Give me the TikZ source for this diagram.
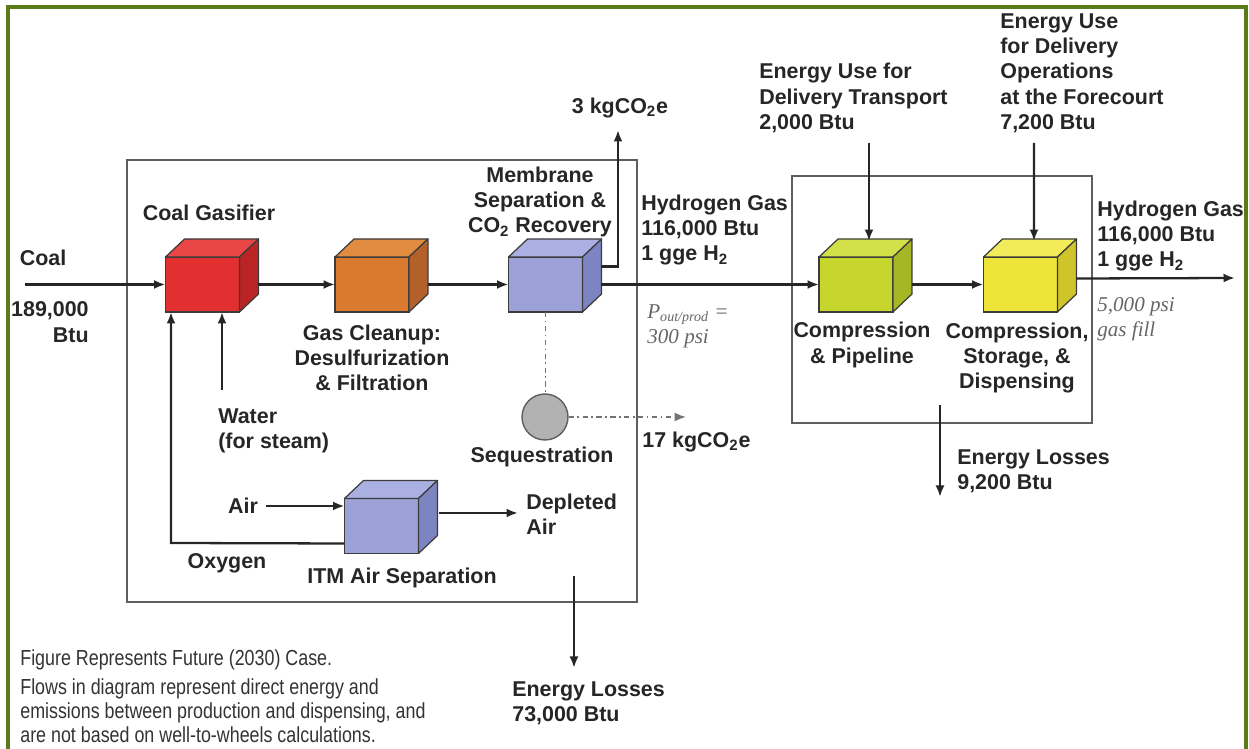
\documentclass[tikz,border=0pt]{standalone}
\usepackage{fontspec}
\usepackage{xcolor}
\usetikzlibrary{arrows.meta,calc}
\setmainfont{Liberation Sans}
\newfontfamily\noteFont[FakeStretch=0.82]{Liberation Sans}
\newfontfamily\psiFont{Liberation Serif}

\definecolor{frameGreen}{HTML}{5B7B18}
\definecolor{inkGray}{HTML}{262626}
\definecolor{boxGray}{HTML}{5E5E5E}
\definecolor{cubeLine}{HTML}{3C3C3C}
\definecolor{gasRed}{HTML}{E23030}
\definecolor{gasRedTop}{HTML}{EA4646}
\definecolor{gasRedSide}{HTML}{BB2424}
\definecolor{cleanOrange}{HTML}{D97A2E}
\definecolor{cleanOrangeTop}{HTML}{E28C42}
\definecolor{cleanOrangeSide}{HTML}{B3602A}
\definecolor{membBlue}{HTML}{9CA2D8}
\definecolor{membBlueTop}{HTML}{ABB0E2}
\definecolor{membBlueSide}{HTML}{7D84C2}
\definecolor{pipeGreen}{HTML}{C6D62C}
\definecolor{pipeGreenTop}{HTML}{D2E04A}
\definecolor{pipeGreenSide}{HTML}{A6B624}
\definecolor{fcYellow}{HTML}{EDE53A}
\definecolor{fcYellowTop}{HTML}{F3EC5A}
\definecolor{fcYellowSide}{HTML}{CFC52A}

\tikzset{
  frameLine/.style={draw=frameGreen, line width=0.08cm},
  sysBox/.style={draw=boxGray, line width=1.2pt, inner sep=0, outer sep=0},
  cubeFace/.style={draw=cubeLine, line width=0.7pt, minimum width=1.48cm, minimum height=1.1cm, inner sep=0, outer sep=0},
  cubeEdge/.style={draw=cubeLine, line width=0.7pt, line join=round},
  seqDisk/.style={circle, draw=boxGray, line width=0.8pt, fill=black!30, minimum size=0.92cm, inner sep=0},
  flow/.style={draw=inkGray, line width=1.3pt, -{Latex[length=2.3mm,width=1.8mm]}},
  seqFlow/.style={draw=black!55, line width=0.9pt, dash dot},
  lbl/.style={text=inkGray, font=\fontsize{12.2}{14.4}\selectfont\bfseries, align=center, inner sep=0},
  psiNote/.style={text=black!60, font=\psiFont\itshape\fontsize{12}{14.4}\selectfont, align=left, inner sep=0},
  footNote/.style={text=black!80, font=\noteFont\fontsize{12.4}{13.6}\selectfont, align=left, inner sep=0}
}

\newcommand{\Cube}[6]{
  \node[cubeFace, fill=#4] (#1) at (#2,#3) {};
  \filldraw[cubeEdge, fill=#5] (#1.north west) -- ($(#1.north west)+(19,-18)$) -- ($(#1.north east)+(19,-18)$) -- (#1.north east) -- cycle;
  \filldraw[cubeEdge, fill=#6] (#1.north east) -- ($(#1.north east)+(19,-18)$) -- ($(#1.south east)+(19,-18)$) -- (#1.south east) -- cycle;
}

\begin{document}
\begin{tikzpicture}[x=0.02cm, y=-0.02cm]
            \useasboundingbox (0,0) rectangle (1249,749);
            \draw[frameLine] (8,749) -- (8,7) -- (1246,7) -- (1246,749);
            \node[sysBox, minimum width=10.2cm, minimum height=8.84cm] (prodBox) at (382,381) {};
            \node[sysBox, minimum width=6cm, minimum height=4.94cm] (delBox) at (942,299.5) {};
            \Cube{coalGas}{202.5}{284.5}{gasRed}{gasRedTop}{gasRedSide}
            \Cube{gasClean}{372}{284.5}{cleanOrange}{cleanOrangeTop}{cleanOrangeSide}
            \Cube{membSep}{545.5}{284.5}{membBlue}{membBlueTop}{membBlueSide}
            \Cube{itmSep}{381.5}{526}{membBlue}{membBlueTop}{membBlueSide}
            \Cube{pipeComp}{856}{284.5}{pipeGreen}{pipeGreenTop}{pipeGreenSide}
            \Cube{fcComp}{1020.5}{284.5}{fcYellow}{fcYellowTop}{fcYellowSide}
            \node[seqDisk] (seqTank) at (545,417) {};
            \coordinate (coalIn) at (25,284.5);
            \coordinate (co2Top) at (618,130);
            \coordinate (h2Out) at (1235,278);
            \coordinate (co2Seq) at (686,417);
            \coordinate (waterIn) at (222,390);
            \coordinate (oxyTurn) at (171,543);
            \coordinate (airIn) at (266,506);
            \coordinate (depOut) at (518,513);
            \coordinate (prodLoss) at (574,576);
            \coordinate (dtIn) at (869,143);
            \coordinate (fcIn) at (1034,143);
            \coordinate (delLoss) at (940,405);
            \draw[flow] (coalIn) -- (coalGas.west);
            \draw[flow] ($(coalGas.east)+(19,0)$) -- (gasClean.west);
            \draw[flow] ($(gasClean.east)+(19,0)$) -- (membSep.west);
            \draw[flow] ($(membSep.east)+(19,0)$) -- (pipeComp.west);
            \draw[flow] ($(pipeComp.east)+(19,0)$) -- (fcComp.west);
            \draw[flow] ($(fcComp.east)+(19,-6)$) -- (h2Out);
            \draw[flow] ($(membSep.east)+(19,-18)$) -| (co2Top);
            \draw[seqFlow] (membSep.south) -- (membSep.south |- seqTank.north);
            \draw[seqFlow, -{Latex[length=2.3mm,width=1.8mm]}] (seqTank.east) -- (co2Seq);
            \draw[flow] (waterIn) -- (waterIn |- coalGas.south);
            \draw[flow] ($(itmSep.south west)+(0,-10)$) -- (oxyTurn) -- (oxyTurn |- coalGas.south);
            \draw[flow] (airIn) -- (airIn -| itmSep.west);
            \draw[flow] ($(itmSep.east)+(21,-13)$) -- (depOut);
            \draw[flow] (prodLoss) -- ++(0,92);
            \draw[flow] (dtIn) -- ($(pipeComp.north)+(13,-16)$);
            \draw[flow] (fcIn) -- ($(fcComp.north)+(13.5,-16)$);
            \draw[flow] (delLoss) -- ++(0,92);
            \node[lbl] (coalLbl) at (43,258) {Coal};
            \node[lbl, align=right, anchor=east] (coalAmt) at (89,322) {189,000\\Btu};
            \node[lbl] (gasLbl) at (209,213) {Coal Gasifier};
            \node[lbl] (cleanLbl) at (372,358) {Gas Cleanup:\\Desulfurization\\\& Filtration};
            \node[lbl] (membLbl) at (540,202) {Membrane\\Separation \&\\CO\textsubscript{2} Recovery};
            \node[lbl] (co2Lbl) at (620,108) {3 kgCO\textsubscript{2}e};
            \node[lbl, align=left, anchor=west] (h2Lbl) at (641,230) {Hydrogen Gas\\116,000 Btu\\1 gge H\textsubscript{2}};
            \node[psiNote, anchor=west] (poutLbl) at (647,326) {P\textsubscript{out/prod} =\\300 psi};
            \node[lbl, align=left, anchor=west] (waterLbl) at (218,431) {Water\\(for steam)};
            \node[lbl] (seqLbl) at (542,457) {Sequestration};
            \node[lbl, anchor=west] (seqCo2Lbl) at (642,442) {17 kgCO\textsubscript{2}e};
            \node[lbl] (airLbl) at (243,506) {Air};
            \node[lbl, align=left, anchor=west] (depLbl) at (526,514) {Depleted\\Air};
            \node[lbl] (oxyLbl) at (227,563) {Oxygen};
            \node[lbl] (itmLbl) at (402,578) {ITM Air Separation};
            \node[lbl, align=left, anchor=west] (prodLossLbl) at (512,703) {Energy Losses\\73,000 Btu};
            \node[footNote, anchor=west] (footA) at (20,660) {Figure Represents Future (2030) Case.};
            \node[footNote, anchor=west] (footB) at (20,711) {Flows in diagram represent direct energy and\\emissions between production and dispensing, and\\are not based on well-to-wheels calculations.};
            \node[lbl, align=left, anchor=west] (dtLbl) at (759,98) {Energy Use for\\Delivery Transport\\2,000 Btu};
            \node[lbl, align=left, anchor=west] (fcUseLbl) at (1000,73) {Energy Use\\for Delivery\\Operations\\at the Forecourt\\7,200 Btu};
            \node[lbl] (pipeLbl) at (862,345) {Compression\\\& Pipeline};
            \node[lbl] (fcLbl) at (1017,358) {Compression,\\Storage, \&\\Dispensing};
            \node[lbl, align=left, anchor=west] (h2OutLbl) at (1097,236) {Hydrogen Gas\\116,000 Btu\\1 gge H\textsubscript{2}};
            \node[psiNote, anchor=west] (fillLbl) at (1097,319) {5,000 psi\\gas fill};
            \node[lbl, align=left, anchor=west] (delLossLbl) at (957,471) {Energy Losses\\9,200 Btu};
\end{tikzpicture}
\end{document}
